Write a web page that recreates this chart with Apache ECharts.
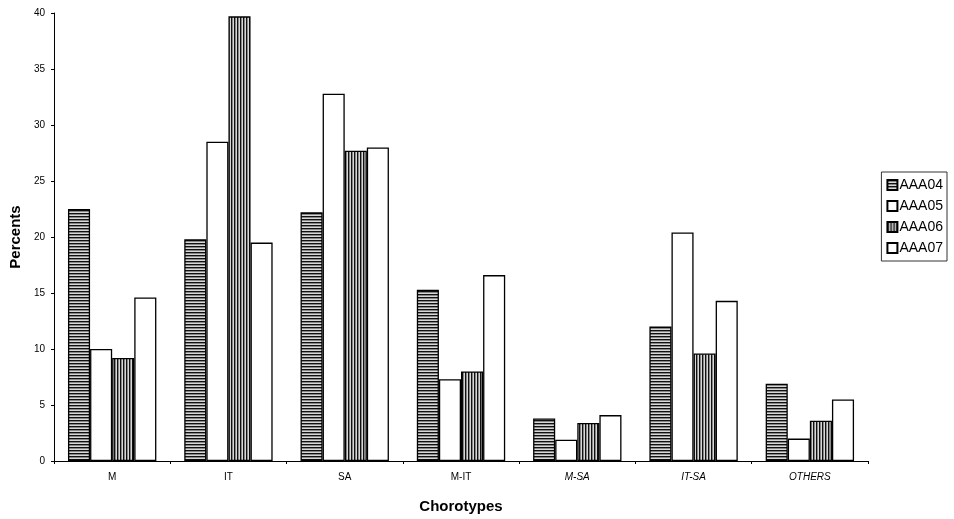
<!DOCTYPE html>
<html><head><meta charset="utf-8">
<script src="https://cdn.jsdelivr.net/npm/echarts@6/dist/echarts.min.js"></script>
<style>html,body{margin:0;padding:0;background:#fff}#c{width:954px;height:519px}</style>
</head><body><div id="c"></div>
<script>
const categories = ['M', 'IT', 'SA', 'M-IT', 'M-SA', 'IT-SA', 'OTHERS'];
const seriesNames = ['AAA04', 'AAA05', 'AAA06', 'AAA07'];
const aaa04 = [22.5, 19.8, 22.2, 15.3, 3.8, 12.0, 6.9];
const aaa05 = [10.0, 28.5, 32.8, 7.3, 1.9, 20.4, 2.0];
const aaa06 = [9.2, 39.7, 27.7, 8.0, 3.4, 9.6, 3.6];
const aaa07 = [14.6, 19.5, 28.0, 16.6, 4.1, 14.3, 5.5];
const yTicks = [0, 5, 10, 15, 20, 25, 30, 35, 40];

function stripes(horizontal) {
  const c = document.createElement('canvas');
  c.width = 3; c.height = 3;
  const g = c.getContext('2d');
  g.fillStyle = '#d8d8d8'; g.fillRect(0, 0, 3, 3);
  g.fillStyle = '#111';
  if (horizontal) g.fillRect(0, 0, 3, 1.4); else g.fillRect(0, 0, 1.4, 3);
  return c;
}
const hPat = { image: stripes(true), repeat: 'repeat' };
const vPat = { image: stripes(false), repeat: 'repeat' };
const fills = [hPat, '#ffffff', vPat, '#ffffff'];
const values = [aaa04, aaa05, aaa06, aaa07];

const chart = echarts.init(document.getElementById('c'), null, { renderer: 'canvas' });
chart.setOption({
  animation: false,
  backgroundColor: '#fff',
  grid: { left: 52, right: 86, top: 13, bottom: 54, containLabel: false },
  legend: {
    orient: 'vertical', right: 7, top: 172,
    data: seriesNames,
    itemWidth: 10, itemHeight: 10, itemGap: 7,
    borderColor: '#333', borderWidth: 1, padding: [6, 4, 6, 5],
    textStyle: { fontFamily: 'Liberation Sans', fontSize: 14, color: '#000', padding: [0, 0, 0, -3] },
    icon: 'rect'
  },
  xAxis: {
    type: 'category', data: categories,
    name: 'Chorotypes', nameLocation: 'middle', nameGap: 38,
    nameTextStyle: { fontFamily: 'Liberation Sans', fontSize: 15, fontWeight: 'bold', color: '#000' },
    axisLine: { lineStyle: { color: '#000', width: 1 } },
    axisTick: { show: true, inside: false, length: 3, lineStyle: { color: '#000' } },
    axisLabel: {
      fontFamily: 'Liberation Sans', fontSize: 10, color: '#000', margin: 11,
      formatter: (v, i) => i >= 4 ? '{it|' + v + '}' : v,
      rich: { it: { fontStyle: 'italic', fontSize: 10, fontFamily: 'Liberation Sans', color: '#000' } }
    },
    splitLine: { show: false }
  },
  yAxis: {
    type: 'value', min: 0, max: 40, interval: 5,
    name: 'Percents', nameLocation: 'middle', nameGap: 30, nameRotate: 90,
    nameTextStyle: { fontFamily: 'Liberation Sans', fontSize: 15, fontWeight: 'bold', color: '#000' },
    axisLine: { show: true, lineStyle: { color: '#000', width: 1 } },
    axisTick: { show: true, length: 3, lineStyle: { color: '#000' } },
    axisLabel: {
      fontFamily: 'Liberation Sans', fontSize: 10, color: '#000', margin: 9,
      formatter: v => yTicks.includes(v) ? String(v) : ''
    },
    splitLine: { show: false }
  },
  series: seriesNames.map((n, i) => ({
    name: n, type: 'bar', data: values[i],
    barGap: '0%', barCategoryGap: '24%',
    itemStyle: { color: fills[i], borderColor: '#000', borderWidth: 1.3 }
  }))
});
</script></body></html>
